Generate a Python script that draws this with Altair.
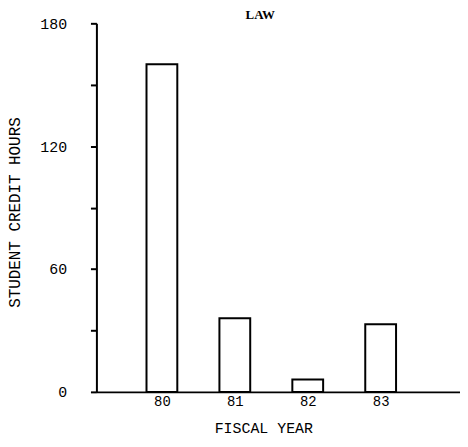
import altair as alt
import pandas as pd

years = [80, 81, 82, 83]
hours = [160, 36, 6, 33]
y_ticks = [0, 30, 60, 90, 120, 150, 180]
x_ticks = [80, 81, 82, 83]

df = pd.DataFrame({"year": years, "hours": hours})

mono = "Liberation Mono"

bars = alt.Chart(df).mark_bar(
    size=31, fill="white", stroke="black", strokeWidth=2
).encode(
    x=alt.X(
        "year:Q",
        scale=alt.Scale(domain=[79.17, 84.02], nice=False, zero=False),
        axis=alt.Axis(
            values=x_ticks, format="d", ticks=False, grid=False,
            domainColor="black", domainWidth=2,
            labelFont=mono, labelFontSize=14, labelColor="black", labelPadding=3,
            title="FISCAL YEAR", titleFont=mono, titleFontSize=15,
            titleFontWeight="normal", titleColor="black",
            titleX=168, titleY=36, titleAlign="center", titleBaseline="middle",
        ),
    ),
    y=alt.Y(
        "hours:Q",
        scale=alt.Scale(domain=[0, 180], nice=False),
        axis=alt.Axis(
            values=y_ticks, grid=False,
            labelExpr="datum.value % 60 == 0 ? datum.label : ''",
            domainColor="black", domainWidth=2,
            tickColor="black", tickWidth=2, tickSize=6,
            labelFont=mono, labelFontSize=15, labelColor="black", labelPadding=24,
            title="STUDENT CREDIT HOURS", titleFont=mono, titleFontSize=16,
            titleFontWeight="normal", titleColor="black",
            titleX=-82, titleY=190, titleAngle=270,
            titleAlign="center", titleBaseline="middle",
        ),
    ),
).properties(
    width=366,
    height=371,
    background="white",
    title=alt.Title("LAW", font="Liberation Serif", fontSize=13,
                    fontWeight="bold", color="black", dx=-18, offset=-6),
    autosize=alt.AutoSizeParams(type="none"),
    padding={"left": 89, "top": 14, "right": 0, "bottom": 45},
).configure_view(stroke=None)

chart = bars
chart.save("out.html", embed_options={"renderer": "svg", "actions": False})
